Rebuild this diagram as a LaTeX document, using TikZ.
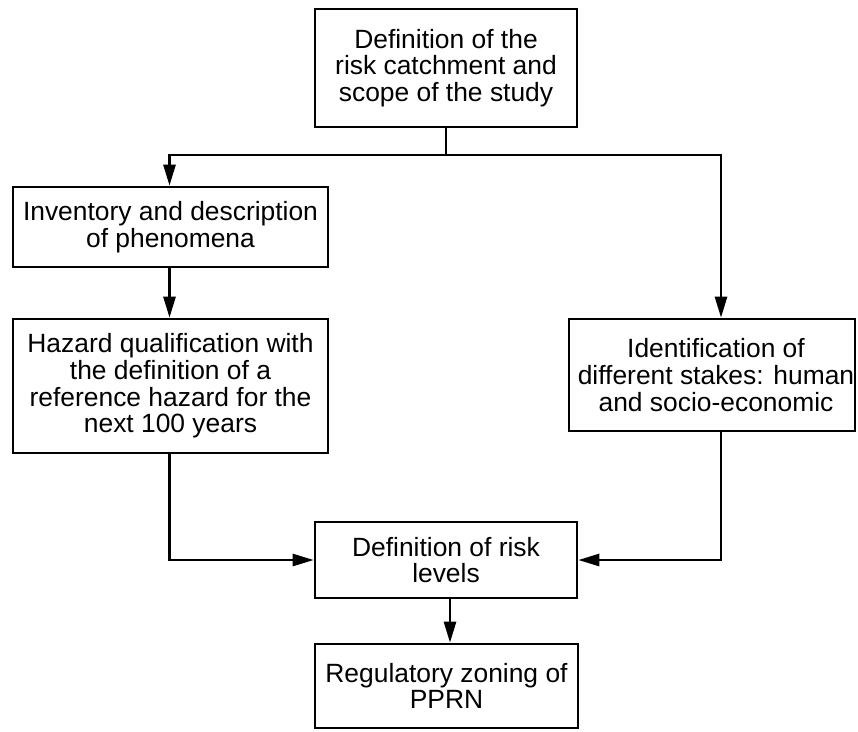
\documentclass[tikz,border=0pt]{standalone}
\usepackage{fontspec}
\setmainfont{Liberation Sans}
\usetikzlibrary{arrows.meta}
\tikzset{
  box/.style={draw=black, line width=2.6pt, rectangle, inner sep=0pt, align=center,
    font=\fontsize{26.4}{26.7}\selectfont},
  arr/.style={line width=2.6pt, -{Triangle[length=21pt,width=12pt]}},
  ln/.style={line width=2.6pt}
}
\begin{document}
\begin{tikzpicture}[x=1pt,y=-1pt]
\useasboundingbox (0,0) rectangle (858,731);
\node[box, minimum width=262pt, minimum height=118pt] (top) at (446,68)
  {Definition of the\\risk catchment and\\scope of the study};
\node[box, minimum width=315pt, minimum height=80pt] (inv) at (170.5,227)
  {Inventory and description\\of phenomena};
\node[box, minimum width=315pt, minimum height=134pt] (haz) at (170.5,386)
  {Hazard qualification with\\the definition of a\\reference hazard for the\\next 100 years};
\node[box, minimum width=286pt, minimum height=112pt] (ident) at (712,375)
  {\hspace*{8pt}Identification of\\\hspace*{8pt}different stakes: human\\\hspace*{8pt}and socio-economic};
\node[box, minimum width=262pt, minimum height=76pt] (risk) at (446,560)
  {Definition of risk\\levels};
\node[box, minimum width=263pt, minimum height=84pt] (reg) at (446.5,686)
  {Regulatory zoning of\\PPRN};
\coordinate (bus) at (446,155);
\draw[ln] (top.south) -- (bus);
\draw[arr] (bus) -| ([xshift=-1pt]inv.north);
\draw[arr] (bus) -| ([xshift=9pt]ident.north);
\draw[arr] ([xshift=-1pt]inv.south) -- ([xshift=-1pt]haz.north);
\draw[arr] ([xshift=-1pt]haz.south) |- (risk.west);
\draw[arr] ([xshift=9pt]ident.south) |- (risk.east);
\draw[arr] ([xshift=4pt]risk.south) -- ([xshift=3.5pt]reg.north);
\end{tikzpicture}
\end{document}
